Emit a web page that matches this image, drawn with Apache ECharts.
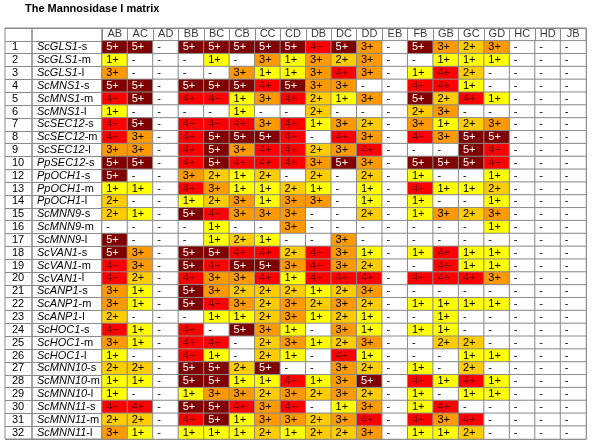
<!DOCTYPE html>
<html>
<head>
<meta charset="utf-8">
<script src="https://cdn.jsdelivr.net/npm/echarts@6/dist/echarts.min.js"></script>
<style>html,body{margin:0;padding:0;background:#fff;}#c{width:600px;height:442px;}</style>
</head>
<body>
<div id="c"></div>
<script>
const titleText = 'The Mannosidase I matrix';
const columns = ['AB','AC','AD','BB','BC','CB','CC','CD','DB','DC','DD','EB','FB','GB','GC','GD','HC','HD','JB'];
const rowNumbers = [1,2,3,4,5,6,7,8,9,10,12,13,14,15,16,17,18,19,20,21,22,23,24,25,26,27,28,29,30,31,32];
const genes = ['ScGLS1','ScGLS1','ScGLS1','ScMNS1','ScMNS1','ScMNS1','ScSEC12','ScSEC12','ScSEC12','PpSEC12',
  'PpOCH1','PpOCH1','PpOCH1','ScMNN9','ScMNN9','ScMNN9','ScVAN1','ScVAN1','ScVAN1','ScANP1','ScANP1','ScANP1',
  'ScHOC1','ScHOC1','ScHOC1','ScMNN10','ScMNN10','ScMNN10','ScMNN11','ScMNN11','ScMNN11'];
const suffixes = ['s','m','l','s','m','l','s','m','l','s','s','m','l','s','m','l','s','m','l','s','m','l',
  's','m','l','s','m','l','s','m','l'];
// 0 = "-", n = "n+"
const scores = [
  [5,5,0,5,5,5,5,5, 4,5,3,0,5,3,2,3,0,0,0],
  [1,0,0,0,1,0,3,1, 3,2,3,0,0,1,1,1,0,0,0],
  [3,0,0,0,0,3,1,1, 3,4,3,0,1,4,2,0,0,0,0],
  [5,5,0,5,5,5,4,5, 3,3,0,0,4,4,1,0,0,0,0],
  [4,5,0,4,4,1,3,4, 2,1,3,0,5,2,4,1,0,0,0],
  [1,0,0,0,0,1,0,0, 2,0,0,0,2,3,0,0,0,0,0],
  [4,5,0,4,4,4,3,4, 1,3,2,0,3,1,2,3,0,0,0],
  [4,3,0,4,5,5,5,4, 0,4,3,0,4,3,5,5,0,0,0],
  [3,3,0,4,5,3,4,4, 2,3,4,0,0,0,5,4,0,0,0],
  [5,5,0,4,5,4,4,4, 3,5,3,0,5,5,5,4,0,0,0],
  [5,0,0,3,2,1,2,0, 2,0,2,0,1,0,0,1,0,0,0],
  [1,1,0,4,3,1,1,2, 1,0,1,0,4,1,1,2,0,0,0],
  [2,0,0,1,2,3,1,3, 3,0,1,0,1,0,0,1,0,0,0],
  [2,1,0,5,4,3,3,3, 0,0,2,0,1,3,2,3,0,0,0],
  [0,0,0,0,1,0,0,3, 0,0,0,0,0,0,0,1,0,0,0],
  [5,0,0,0,1,2,1,0, 0,3,0,0,0,0,0,0,0,0,0],
  [5,3,0,5,5,4,4,2, 4,3,1,0,1,4,1,1,0,0,0],
  [4,3,0,5,4,5,5,3, 4,3,2,0,0,4,1,1,0,0,0],
  [4,2,0,4,3,3,4,1, 4,4,4,0,4,4,4,3,0,0,0],
  [3,1,0,5,3,2,2,2, 1,2,3,0,0,0,0,0,0,0,0],
  [3,1,0,5,4,3,2,3, 2,3,2,0,1,1,1,1,0,0,0],
  [2,0,0,0,1,1,2,3, 1,2,1,0,0,1,0,0,0,0,0],
  [4,1,0,4,0,5,3,1, 0,3,1,0,1,1,0,0,0,0,0],
  [3,1,0,4,4,0,2,3, 1,2,3,0,0,2,2,0,0,0,0],
  [1,0,0,4,1,0,2,1, 0,4,1,0,0,0,1,1,0,0,0],
  [2,2,0,5,5,2,5,0, 0,3,2,0,1,0,2,0,0,0,0],
  [1,1,0,5,5,1,1,4, 1,3,5,0,4,1,4,1,0,0,0],
  [1,0,0,1,3,3,2,3, 2,3,2,0,1,0,1,1,0,0,0],
  [4,4,0,5,5,4,3,4, 0,1,3,0,1,4,0,0,0,0,0],
  [2,2,0,4,5,1,3,3, 2,3,4,0,4,3,4,0,0,0,0],
  [3,1,0,1,1,1,2,1, 2,2,3,0,1,1,2,0,0,0,0]
];
const scoreLabels = ['-','1+','2+','3+','4+','5+'];

const FONT = 'Liberation Sans';
const LINE = '#8a8a8a';
const yCats = [''].concat(rowNumbers.map(String));

const heatData = [];
scores.forEach((row, r) => row.forEach((v, c) => heatData.push([c, r + 1, v])));
const headerData = columns.map((name, c) => [c, 0]);

function gridDef(left, width) {
  return { left: left, width: width, top: 28, height: 411, show: true, borderColor: LINE, borderWidth: 1, containLabel: false };
}
function xAx(idx, data, split) {
  return { gridIndex: idx, type: 'category', data: data, axisLine: {show: false}, axisTick: {show: false},
    axisLabel: {show: false}, splitLine: {show: split, interval: 0, lineStyle: {color: LINE, width: 1}} };
}
function yAx(idx, label) {
  return { gridIndex: idx, type: 'category', inverse: true, data: yCats, axisLine: {show: false}, axisTick: {show: false},
    axisLabel: label || {show: false}, splitLine: {show: true, interval: 0, lineStyle: {color: LINE, width: 1}} };
}

const chart = echarts.init(document.getElementById('c'), null, {renderer: 'canvas'});
chart.setOption({
  animation: false,
  backgroundColor: '#fff',
  title: { text: titleText, left: 25, top: 3, padding: 0, textStyle: {fontFamily: FONT, fontSize: 11, fontWeight: 'bold', color: '#000'} },
  grid: [gridDef(5, 27), gridDef(32, 70), gridDef(102, 484)],
  xAxis: [xAx(0, [''], false), xAx(1, [''], false), xAx(2, columns, true)],
  yAxis: [
    yAx(0, {show: true, inside: true, margin: 7, interval: 0, fontFamily: FONT, fontSize: 11, color: '#000',
      formatter: (v) => v}),
    yAx(1, {show: true, inside: true, margin: 5, interval: 0, fontFamily: FONT, fontSize: 11, color: '#000',
      formatter: (v, i) => i === 0 ? '' : '{i|' + genes[i - 1] + '}{n|-' + suffixes[i - 1] + '}',
      rich: { i: {fontFamily: FONT, fontSize: 11, fontStyle: 'italic', color: '#000'}, n: {fontFamily: FONT, fontSize: 11, color: '#000'} }}),
    yAx(2)
  ],
  visualMap: {
    type: 'piecewise', show: false, dimension: 2, seriesIndex: 0,
    pieces: [
      {value: 0, color: '#ffffff'}, {value: 1, color: '#ffff00'}, {value: 2, color: '#ffcc00'},
      {value: 3, color: '#ff9900'}, {value: 4, color: '#ff0000'}, {value: 5, color: '#800000'}
    ]
  },
  series: [
    {
      type: 'heatmap', xAxisIndex: 2, yAxisIndex: 2, data: heatData,
      itemStyle: {borderColor: LINE, borderWidth: 1},
      emphasis: {disabled: true},
      label: {
        show: true, position: 'insideLeft', distance: 5,
        formatter: (p) => '{s' + p.value[2] + '|' + scoreLabels[p.value[2]] + '}',
        rich: {
          s0: {fontFamily: FONT, fontSize: 11, color: '#000'},
          s1: {fontFamily: FONT, fontSize: 11, color: '#000'},
          s2: {fontFamily: FONT, fontSize: 11, color: '#000'},
          s3: {fontFamily: FONT, fontSize: 11, color: '#000'},
          s4: {fontFamily: FONT, fontSize: 11, color: '#7a0000'},
          s5: {fontFamily: FONT, fontSize: 11, color: '#ffffff'}
        }
      }
    },
    {
      type: 'scatter', xAxisIndex: 2, yAxisIndex: 2, data: headerData, symbolSize: 1,
      itemStyle: {color: 'rgba(0,0,0,0)'}, silent: true,
      label: { show: true, position: 'inside', fontFamily: FONT, fontSize: 11, color: '#000',
        formatter: (p) => columns[p.value[0]] }
    }
  ]
});
</script>
</body>
</html>
